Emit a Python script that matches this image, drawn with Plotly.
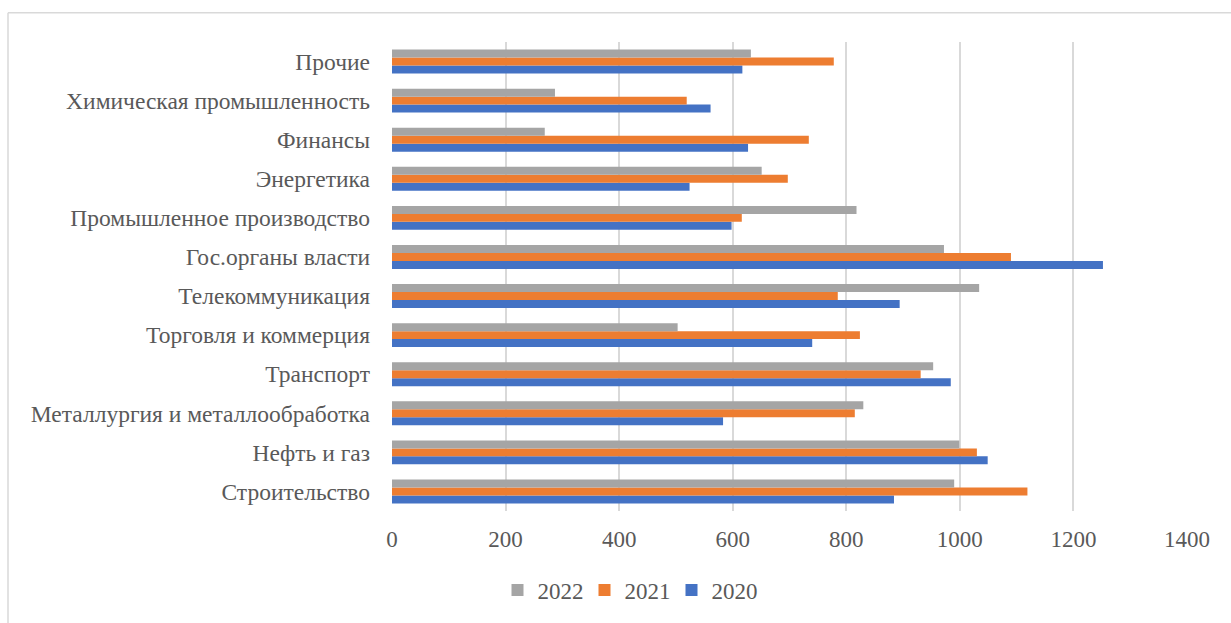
import plotly.graph_objects as go

categories = [
    "Строительство",
    "Нефть и газ",
    "Металлургия и металлообработка",
    "Транспорт",
    "Торговля и коммерция",
    "Телекоммуникация",
    "Гос.органы власти",
    "Промышленное производство",
    "Энергетика",
    "Финансы",
    "Химическая промышленность",
    "Прочие",
]
values_2020 = [884, 1049, 583, 984, 740, 894, 1252, 598, 524, 627, 561, 617]
values_2021 = [1119, 1030, 815, 931, 824, 785, 1090, 616, 697, 734, 519, 778]
values_2022 = [990, 999, 830, 953, 503, 1034, 972, 818, 651, 269, 287, 632]
x_ticks = [0, 200, 400, 600, 800, 1000, 1200, 1400]

series = [
    ("2020", values_2020, "#4472C4"),
    ("2021", values_2021, "#ED7D31"),
    ("2022", values_2022, "#A5A5A5"),
]

fig = go.Figure()
for name, vals, color in series:
    fig.add_trace(go.Bar(
        y=categories, x=vals, name=name, orientation="h",
        marker=dict(color=color, line=dict(width=0)),
    ))

font_family = "'Liberation Serif', 'Times New Roman', 'DejaVu Serif', serif"
text_color = "#595959"

# plot area in px
L, R, T, B = 392, 1187, 42.4, 512.8
W, H = 1231, 623
pw, ph = R - L, B - T

fig.update_layout(
    width=W, height=H,
    margin=dict(l=L, r=W - R, t=T, b=H - B, pad=0),
    paper_bgcolor="white", plot_bgcolor="white",
    barmode="group", bargap=0.39, bargroupgap=0,
    font=dict(family=font_family, size=23, color=text_color),
    showlegend=True,
    legend=dict(
        orientation="h", traceorder="reversed",
        x=(628 - L) / pw, xanchor="center",
        y=(B - 592) / ph, yanchor="middle",
        font=dict(family=font_family, size=23, color=text_color),
        itemwidth=30, entrywidth=42, entrywidthmode="pixels",
    ),
    xaxis=dict(
        range=[0, 1400], tickvals=x_ticks, ticktext=[str(v) for v in x_ticks],
        showgrid=True, gridcolor="#D9D9D9", gridwidth=1.5,
        zeroline=False, showline=False, ticks="",
        ticklabelstandoff=12,
        tickfont=dict(family=font_family, size=23, color=text_color),
    ),
    yaxis=dict(
        type="category", categoryorder="array", categoryarray=categories,
        showgrid=False, zeroline=False,
        showline=False, ticks="", ticklabelstandoff=21,
        tickfont=dict(family=font_family, size=23.5, color=text_color),
    ),
    shapes=[
        dict(type="line", xref="paper", yref="paper",
             x0=(8 - L) / pw, x1=(1240 - L) / pw,
             y0=(B - 13) / ph, y1=(B - 13) / ph,
             line=dict(color="#D9D9D9", width=1.5)),
        dict(type="line", xref="paper", yref="paper",
             x0=(8 - L) / pw, x1=(8 - L) / pw,
             y0=(B - 13) / ph, y1=(B - 640) / ph,
             line=dict(color="#D9D9D9", width=1.5)),
    ],
)

fig.write_html("out.html")
